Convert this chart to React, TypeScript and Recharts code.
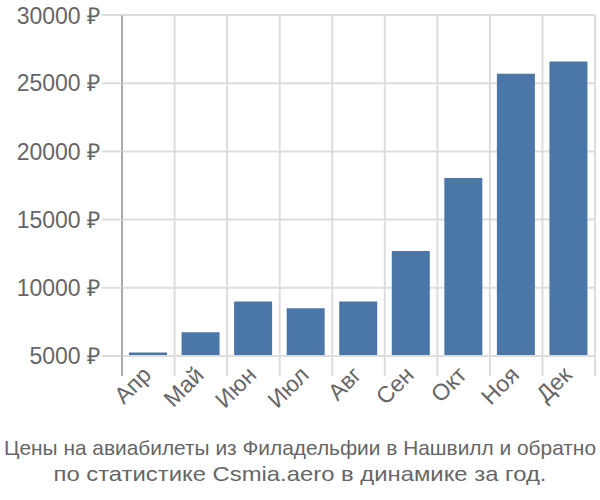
import { BarChart, Bar, XAxis, YAxis, CartesianGrid } from 'recharts'

const months = ['Апр', 'Май', 'Июн', 'Июл', 'Авг', 'Сен', 'Окт', 'Ноя', 'Дек']
const prices = [5250, 6750, 9000, 8500, 9000, 12700, 18050, 25700, 26600]
const yTicks = [5000, 10000, 15000, 20000, 25000, 30000]
const titleLines = [
  'Цены на авиабилеты из Филадельфии в Нашвилл и обратно',
  'по статистике Csmia.aero в динамике за год.',
]
const titleWidths = [592, 493]

const data = months.map((m, i) => ({ month: m, price: prices[i] }))

const W = 600
const H = 430
const M = { top: 15, right: 5, left: 0, bottom: 0 }
const Y_W = 122
const X_H = 74
const plotW = W - M.left - M.right - Y_W
const band = plotW / months.length
const font = "'Liberation Sans', Arial, sans-serif"

function MonthTick(props: any) {
  const { x, y, payload, index } = props
  const left = x - band / 2
  const top = H - M.bottom - X_H
  const tx = x
  const ty = y + 8
  return (
    <g>
      <line x1={left} y1={top} x2={left} y2={top + 20} stroke={index === 0 ? '#aaa' : '#ddd'} strokeWidth={2} />
      {index === months.length - 1 && (
        <line x1={x + band / 2} y1={top} x2={x + band / 2} y2={top + 20} stroke="#ddd" strokeWidth={2} />
      )}
      <text
        x={tx}
        y={ty}
        transform={`rotate(-45, ${tx}, ${ty})`}
        textAnchor="end"
        dominantBaseline="middle"
        fill="#666"
        fontSize={23}
        fontFamily={font}
      >
        {payload.value}
      </text>
    </g>
  )
}

export default function App() {
  return (
    <div style={{ position: 'absolute', left: 0, top: 0, width: W, height: 500, background: '#fff' }}>
      <BarChart width={W} height={H} data={data} margin={M} barSize={38}>
        <CartesianGrid
          stroke="#ddd"
          strokeWidth={2}
          verticalCoordinatesGenerator={({ offset }: any) =>
            months.map((_, i) => offset.left + i * band).concat([offset.left + plotW])
          }
        />
        <XAxis
          dataKey="month"
          height={X_H}
          interval={0}
          axisLine={{ stroke: '#ddd', strokeWidth: 2 }}
          tickLine={false}
          tick={<MonthTick />}
        />
        <YAxis
          width={Y_W}
          domain={[5000, 30000]}
          ticks={yTicks}
          allowDataOverflow
          tickFormatter={(v: number) => `${v} ₽`}
          tick={{ fill: '#666', fontSize: 23, fontFamily: font }}
          tickSize={20}
          tickLine={{ stroke: '#ddd', strokeWidth: 2 }}
          axisLine={{ stroke: '#aaa', strokeWidth: 2 }}
        />
        <Bar dataKey="price" fill="#4a76a8" isAnimationActive={false} />
      </BarChart>
      <svg width={W} height={70} style={{ position: 'absolute', left: 0, top: 430 }}>
        {titleLines.map((t, i) => (
          <text
            key={t}
            x={W / 2}
            y={25 + i * 26}
            textAnchor="middle"
            fill="#666"
            fontSize={21}
            fontFamily={font}
            textLength={titleWidths[i]}
            lengthAdjust="spacingAndGlyphs"
          >
            {t}
          </text>
        ))}
      </svg>
    </div>
  )
}
